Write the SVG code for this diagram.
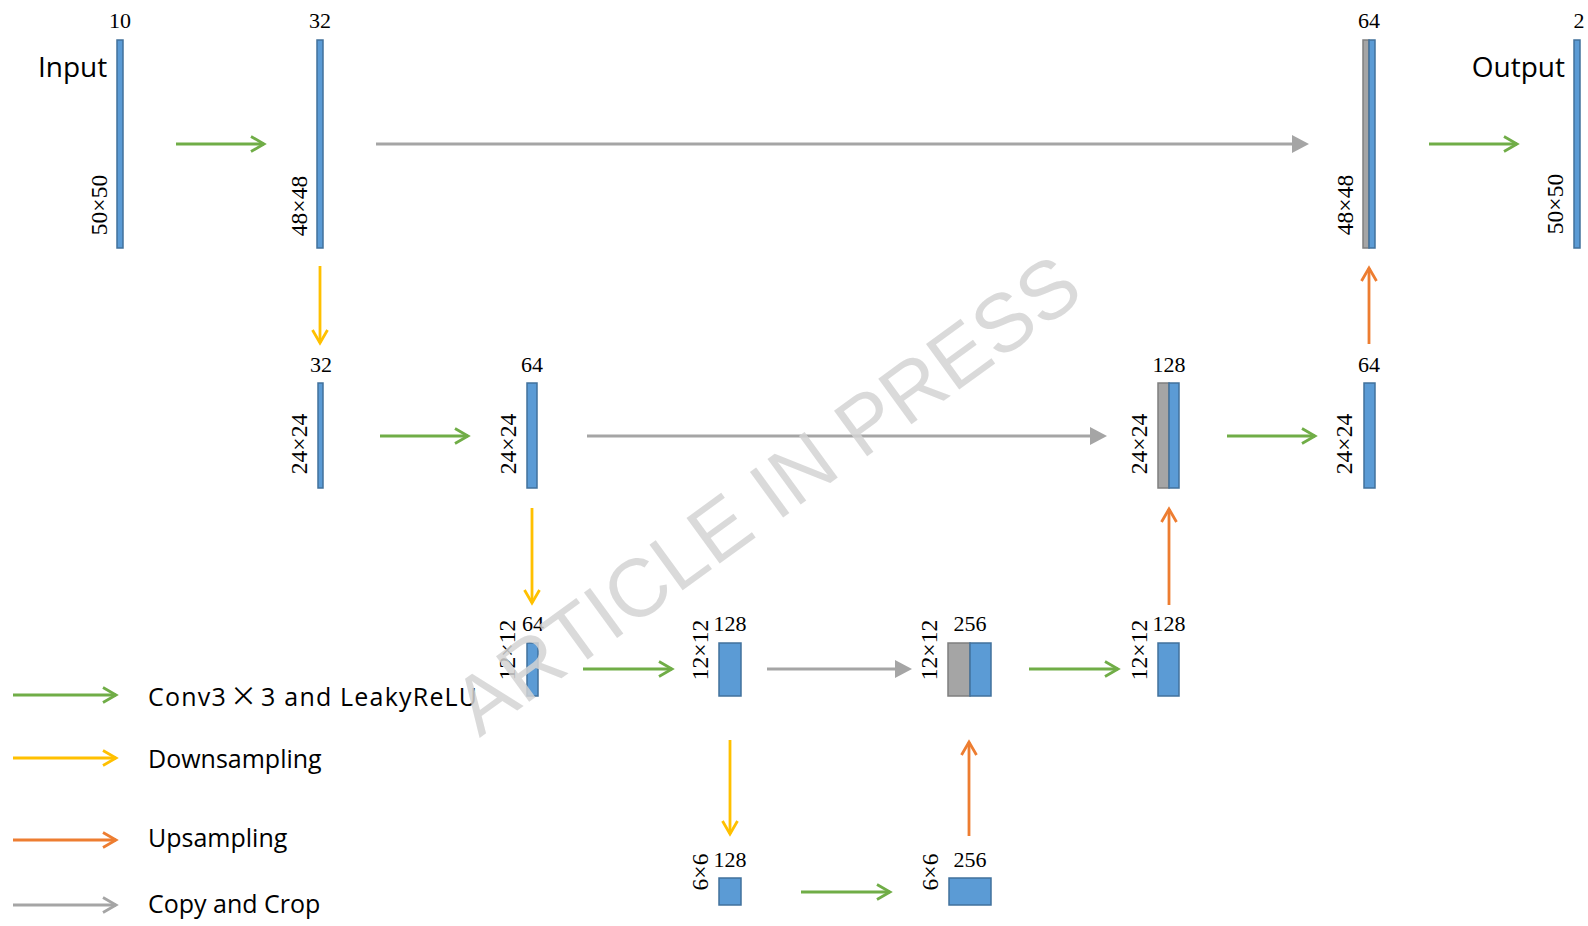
<svg xmlns="http://www.w3.org/2000/svg" width="1588" height="926" viewBox="0 0 1588 926">
<style>
.blue{fill:#5b9bd5;stroke:#41719c;stroke-width:1.5}
.gray{fill:#a5a5a5;stroke:#7f7f7f;stroke-width:1.5}
.num{font-family:"Liberation Serif","Times New Roman",serif;font-size:22px;fill:#000;text-anchor:middle}
.dim{font-family:"Liberation Serif","Times New Roman",serif;font-size:23.5px;fill:#000;text-anchor:middle}
.big{font-family:"Open Sans","Noto Sans",sans-serif;font-size:28px;fill:#000}
.leg{font-family:"Open Sans","Noto Sans",sans-serif;font-size:25px;fill:#000}
.g{stroke:#70ad47;stroke-width:2.8;fill:none;marker-end:url(#chG)}
.y{stroke:#ffc000;stroke-width:2.8;fill:none;marker-end:url(#chY)}
.o{stroke:#ed7d31;stroke-width:2.8;fill:none;marker-end:url(#chO)}
.c{stroke:#a5a5a5;stroke-width:3;fill:none;marker-end:url(#triC)}
.cl{stroke:#a5a5a5;stroke-width:2.8;fill:none;marker-end:url(#chC)}
.wm{font-family:"Liberation Sans",Arial,sans-serif;font-size:82px;fill:#d4d4d4;fill-opacity:0.85;text-anchor:middle}
</style>
<defs>
<marker id="chG" markerUnits="userSpaceOnUse" markerWidth="30" markerHeight="30" refX="0" refY="0" orient="auto" overflow="visible"><path d="M-13,-7.5 L0,0 L-13,7.5" fill="none" stroke="#70ad47" stroke-width="2.8"/></marker>
<marker id="chY" markerUnits="userSpaceOnUse" markerWidth="30" markerHeight="30" refX="0" refY="0" orient="auto" overflow="visible"><path d="M-13,-7.5 L0,0 L-13,7.5" fill="none" stroke="#ffc000" stroke-width="2.8"/></marker>
<marker id="chO" markerUnits="userSpaceOnUse" markerWidth="30" markerHeight="30" refX="0" refY="0" orient="auto" overflow="visible"><path d="M-13,-7.5 L0,0 L-13,7.5" fill="none" stroke="#ed7d31" stroke-width="2.8"/></marker>
<marker id="chC" markerUnits="userSpaceOnUse" markerWidth="30" markerHeight="30" refX="0" refY="0" orient="auto" overflow="visible"><path d="M-13,-7.5 L0,0 L-13,7.5" fill="none" stroke="#a5a5a5" stroke-width="2.8"/></marker>
<marker id="triC" markerUnits="userSpaceOnUse" markerWidth="30" markerHeight="30" refX="0" refY="0" orient="auto" overflow="visible"><path d="M-1,-9 L16,0 L-1,9 Z" fill="#a5a5a5"/></marker>
</defs>

<g id="connectors">
<line class="g" x1="176" y1="144" x2="264" y2="144"/>
<line class="g" x1="1429" y1="144" x2="1517" y2="144"/>
<line class="g" x1="380" y1="436" x2="468" y2="436"/>
<line class="g" x1="1227" y1="436" x2="1315" y2="436"/>
<line class="g" x1="583" y1="669" x2="672" y2="669"/>
<line class="g" x1="1029" y1="669" x2="1118" y2="669"/>
<line class="g" x1="801" y1="892" x2="890" y2="892"/>
<line class="c" x1="376" y1="144" x2="1293" y2="144"/>
<line class="c" x1="587" y1="436" x2="1091" y2="436"/>
<line class="c" x1="767" y1="669" x2="896" y2="669"/>
<line class="y" x1="320" y1="266" x2="320" y2="343"/>
<line class="y" x1="532" y1="508" x2="532" y2="603"/>
<line class="y" x1="730" y1="740" x2="730" y2="834"/>
<line class="o" x1="1369" y1="344" x2="1369" y2="268"/>
<line class="o" x1="1169" y1="605" x2="1169" y2="509"/>
<line class="o" x1="969" y1="836" x2="969" y2="742"/>
</g>

<g id="input">
<rect class="blue" x="117" y="40" width="6" height="208"/>
<text class="num" x="120" y="28">10</text>
<text class="dim" transform="translate(107,205) rotate(-90)">50×50</text>
<text class="big" x="38" y="77">Input</text>
</g>
<g id="enc1">
<rect class="blue" x="317" y="40" width="6" height="208"/>
<text class="num" x="320" y="28">32</text>
<text class="dim" transform="translate(307,206) rotate(-90)">48×48</text>
</g>
<g id="dec1">
<rect class="gray" x="1363" y="40" width="6" height="208"/>
<rect class="blue" x="1369" y="40" width="6" height="208"/>
<text class="num" x="1369" y="28">64</text>
<text class="dim" transform="translate(1353,205) rotate(-90)">48×48</text>
</g>
<g id="output">
<rect class="blue" x="1574" y="40" width="6" height="208"/>
<text class="num" x="1579" y="28">2</text>
<text class="dim" transform="translate(1563,204) rotate(-90)">50×50</text>
<text class="big" x="1565" y="77" text-anchor="end">Output</text>
</g>

<g id="enc2a">
<rect class="blue" x="318" y="383" width="5" height="105"/>
<text class="num" x="321" y="372">32</text>
<text class="dim" transform="translate(307,444) rotate(-90)">24×24</text>
</g>
<g id="enc2b">
<rect class="blue" x="527" y="383" width="10" height="105"/>
<text class="num" x="532" y="372">64</text>
<text class="dim" transform="translate(516,444) rotate(-90)">24×24</text>
</g>
<g id="dec2a">
<rect class="gray" x="1158" y="383" width="11" height="105"/>
<rect class="blue" x="1169" y="383" width="10" height="105"/>
<text class="num" x="1169" y="372">128</text>
<text class="dim" transform="translate(1147,444) rotate(-90)">24×24</text>
</g>
<g id="dec2b">
<rect class="blue" x="1364" y="383" width="11" height="105"/>
<text class="num" x="1369" y="372">64</text>
<text class="dim" transform="translate(1352,444) rotate(-90)">24×24</text>
</g>

<g id="enc3a">
<rect class="blue" x="527" y="643" width="11" height="53"/>
<text class="num" x="533" y="631">64</text>
<text class="dim" transform="translate(515,650) rotate(-90)">12×12</text>
</g>
<g id="enc3b">
<rect class="blue" x="719" y="643" width="22" height="53"/>
<text class="num" x="730" y="631">128</text>
<text class="dim" transform="translate(708,650) rotate(-90)">12×12</text>
</g>
<g id="dec3a">
<rect class="gray" x="948" y="643" width="22" height="53"/>
<rect class="blue" x="970" y="643" width="21" height="53"/>
<text class="num" x="970" y="631">256</text>
<text class="dim" transform="translate(937,650) rotate(-90)">12×12</text>
</g>
<g id="dec3b">
<rect class="blue" x="1158" y="643" width="21" height="53"/>
<text class="num" x="1169" y="631">128</text>
<text class="dim" transform="translate(1147,650) rotate(-90)">12×12</text>
</g>

<g id="bott1">
<rect class="blue" x="719" y="878" width="22" height="27"/>
<text class="num" x="730" y="867">128</text>
<text class="dim" transform="translate(708,872) rotate(-90)">6×6</text>
</g>
<g id="bott2">
<rect class="blue" x="949" y="878" width="42" height="27"/>
<text class="num" x="970" y="867">256</text>
<text class="dim" transform="translate(938,872) rotate(-90)">6×6</text>
</g>

<g id="legend">
<line class="g" x1="13" y1="695" x2="116" y2="695"/>
<line class="y" x1="13" y1="758" x2="116" y2="758"/>
<line class="o" x1="13" y1="840" x2="116" y2="840"/>
<line class="cl" x1="13" y1="905" x2="116" y2="905"/>
<text class="leg" x="148" y="706" letter-spacing="1.2">Conv3<tspan dx="3" font-family="'Noto Sans CJK SC',sans-serif" font-size="27">×</tspan><tspan dx="3">3 and LeakyReLU</tspan></text>
<text class="leg" x="148" y="768">Downsampling</text>
<text class="leg" x="148" y="847">Upsampling</text>
<text class="leg" x="148" y="913">Copy and Crop</text>
</g>

<g id="watermark">
<text class="wm" transform="translate(766,494) rotate(-36)" x="0" y="29">ARTICLE IN PRESS</text>
</g>
</svg>
